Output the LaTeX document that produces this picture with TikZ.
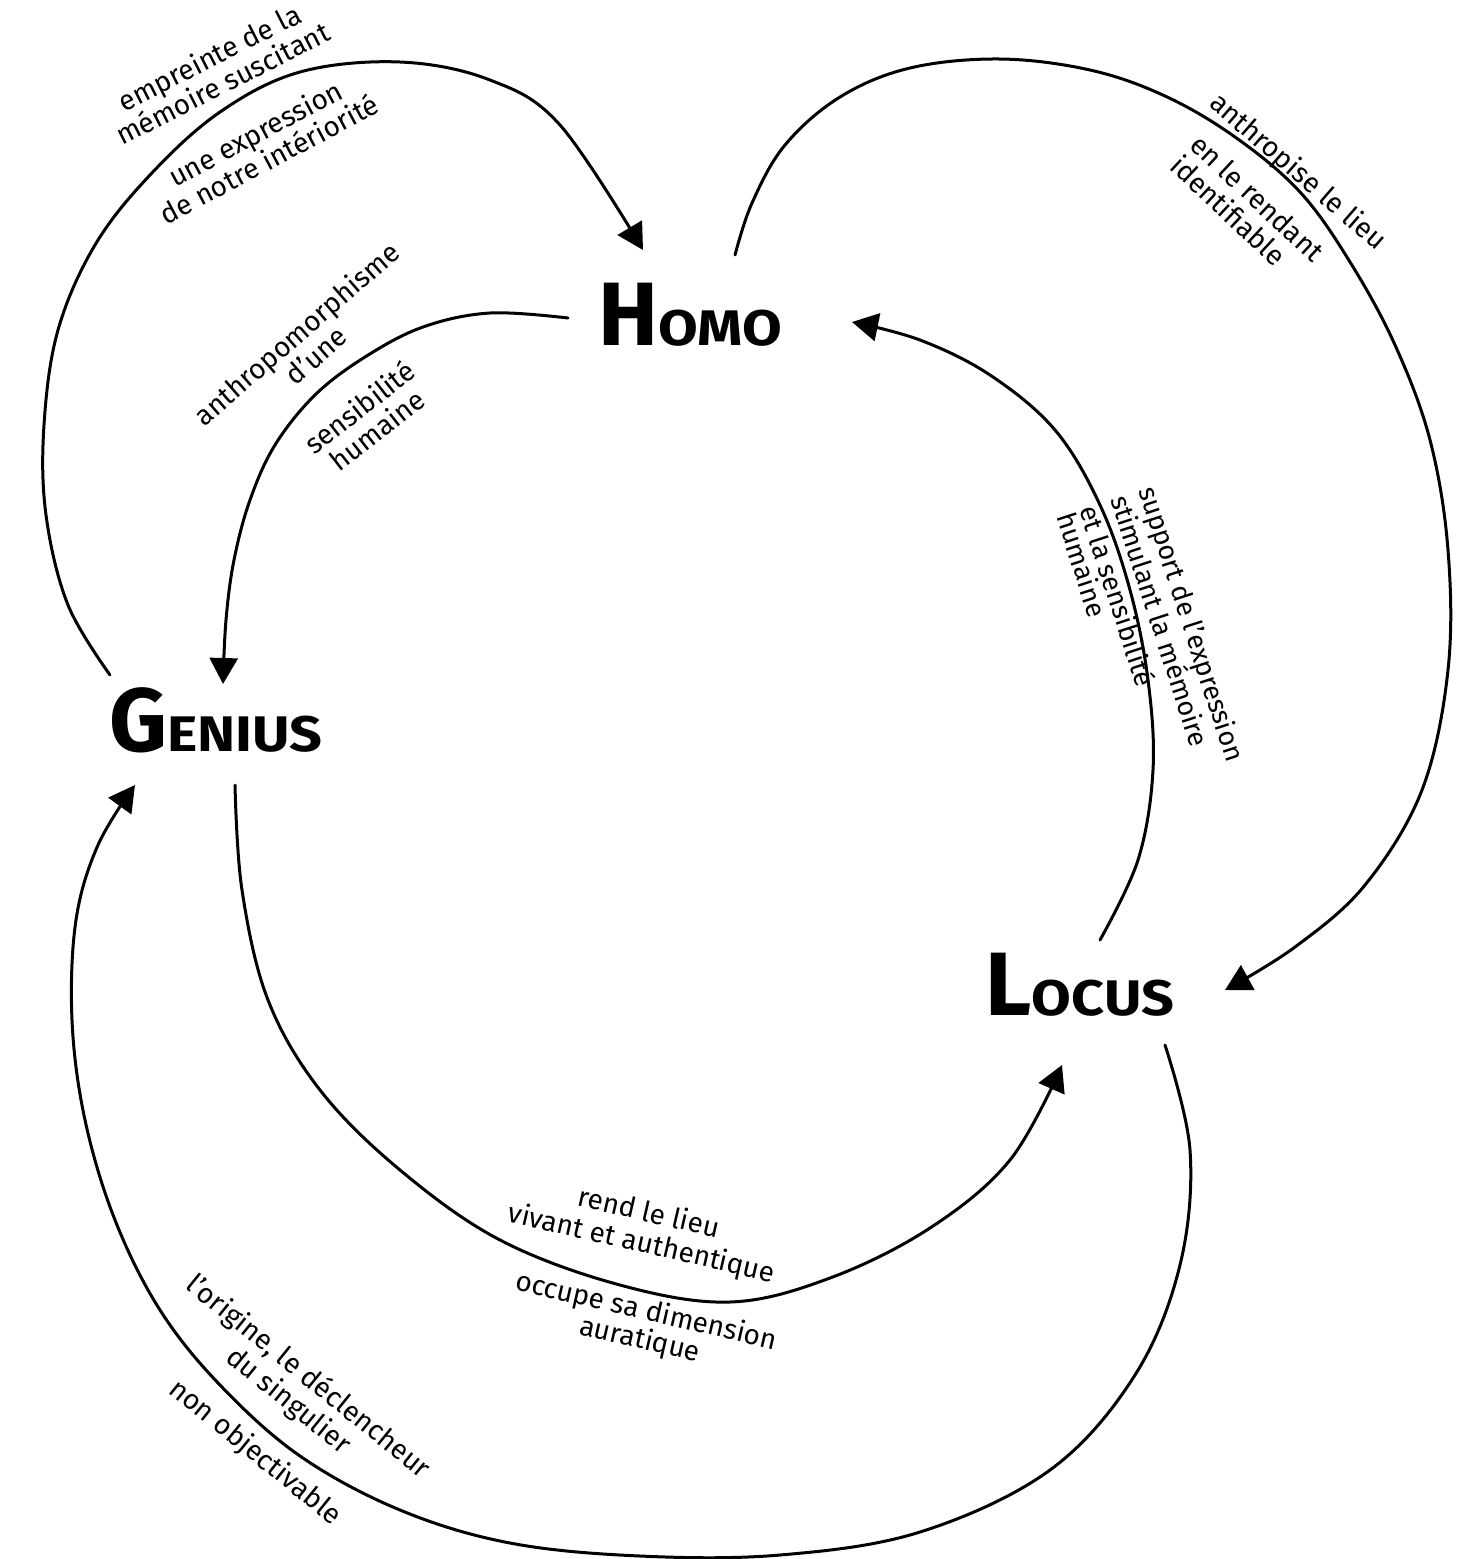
\documentclass[tikz,border=0pt]{standalone}
\usepackage{fontspec}
\usepackage{graphicx}
\setmainfont{Fira Sans}
\usetikzlibrary{arrows.meta,calc}
\newcommand{\titleword}[2]{{\bfseries\fontsize{45}{45}\selectfont #1}\scalebox{1.15}[1]{\bfseries\fontsize{25}{25}\selectfont #2}}
\begin{document}
\begin{tikzpicture}[x=0.5pt,y=-0.5pt]
\tikzset{
  conn/.style={line width=1.5pt, line cap=round, -{Triangle[length=13pt,width=14pt]}},
  lbl/.style={font=\fontsize{14}{14.5}\selectfont, align=center, inner sep=0pt},
  lblwide/.style={lbl, font=\fontsize{14}{15.5}\selectfont},
  lbltight/.style={lbl, font=\fontsize{13.5}{12}\selectfont},
  lblleft/.style={align=left, anchor=west},
  titlenode/.style={inner sep=0pt}
}
\useasboundingbox (0,0) rectangle (1483,1559);
\fill[white] (0,0) rectangle (1483,1559);

% main nodes
\node[titlenode] (homo) at (690,315) {\titleword{H}{OMO}};
\node[titlenode] (genius) at (216,720) {\titleword{G}{ENIUS}};
\node[titlenode] (locus) at (1080,985) {\titleword{L}{OCUS}};

% connector end points, relative to the nodes
\coordinate (c1s) at ($(genius)+(-106,-45)$);
\coordinate (c1e) at ($(homo)+(-47,-65)$);
\coordinate (c2s) at ($(homo)+(-122,3)$);
\coordinate (c2e) at ($(genius)+(7,-36)$);
\coordinate (c3s) at ($(homo)+(45,-60)$);
\coordinate (c3e) at ($(locus)+(145,5)$);
\coordinate (c4s) at ($(locus)+(20,-45)$);
\coordinate (c4e) at ($(homo)+(162,7)$);
\coordinate (c5s) at ($(genius)+(19,65)$);
\coordinate (c5e) at ($(locus)+(-18,80)$);
\coordinate (c6s) at ($(locus)+(85,60)$);
\coordinate (c6e) at ($(genius)+(-81,65)$);

% connectors
\draw[conn] plot[smooth, tension=0.6] coordinates {(c1s) (68,605) (46,515) (44,425) (58,330) (95,245) (150,175) (220,112) (300,72) (400,62) (490,80) (560,125) (c1e)};
\draw[conn] plot[smooth, tension=0.6] coordinates {(c2s) (490,313) (423,327) (365,357) (315,395) (275,445) (250,500) (234,560) (226,620) (c2e)};
\draw[conn] plot[smooth, tension=0.6] coordinates {(c3s) (752,203) (785,145) (840,97) (910,68) (1000,59) (1090,70) (1165,96) (1235,137) (1300,192) (1350,262) (1395,345) (1430,440) (1448,550) (1448,670) (1422,790) (1365,885) (1295,947) (c3e)};
\draw[conn] plot[smooth, tension=0.6] coordinates {(c4s) (1138,860) (1153,770) (1148,680) (1130,590) (1100,505) (1055,430) (990,375) (920,340) (c4e)};
\draw[conn] plot[smooth, tension=0.6] coordinates {(c5s) (242,890) (268,1000) (320,1090) (400,1170) (500,1240) (620,1285) (730,1302) (830,1278) (930,1228) (1010,1160) (c5e)};
\draw[conn] plot[smooth, tension=0.6] coordinates {(c6s) (1190,1150) (1180,1265) (1135,1375) (1050,1470) (920,1532) (780,1555) (640,1556) (510,1543) (400,1510) (300,1456) (220,1385) (160,1310) (115,1220) (85,1120) (72,1020) (76,920) (98,845) (c6e)};

% labels
\node[lbl, rotate=27] (la) at (216,70) {empreinte de la\\mémoire suscitant};
\node[lbl, rotate=28] (lb) at (262,146) {une expression\\de notre intériorité};
\node[lbl, rotate=41] (lc) at (306,344) {anthropomorphisme\\d’une};
\node[lbl, rotate=38] (ld) at (368,418) {sensibilité\\humaine};
\node[lbl, lblleft, rotate=-41] (le) at (1213,99) {anthropise le lieu};
\node[lbl, lblleft, rotate=-43] (le2) at (1185,150) {en le rendant\\identifiable};
\node[lbltight, lblleft, rotate=-72] (lf) at (1107,500) {support de l’expression\\stimulant la mémoire\\[4.5pt]et la sensibilité\\humaine};
\node[lblwide, rotate=-13] (lg) at (645,1229) {rend le lieu\\vivant et authentique};
\node[lbl, rotate=-13] (lh) at (643,1326) {occupe sa dimension\\auratique};
\node[lblwide, rotate=-39] (li) at (298,1389) {l’origine, le déclencheur\\du singulier};
\node[lbl, rotate=-39] (lj) at (255,1453) {non objectivable};
\end{tikzpicture}
\end{document}
